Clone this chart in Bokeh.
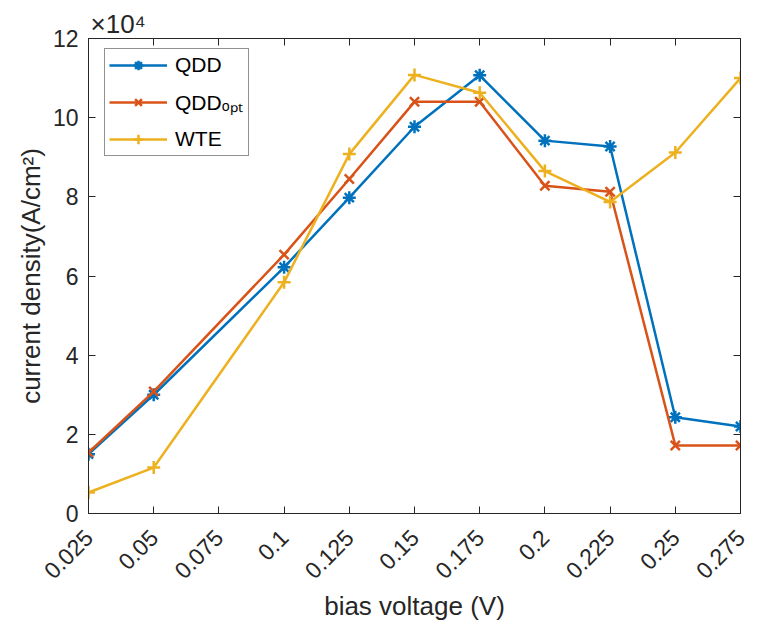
import math
from bokeh.plotting import figure
from bokeh.models import (FixedTicker, LinearAxis, Range1d, Legend, LegendItem,
                          Title, CustomJSTickFormatter)
from bokeh.embed import file_html
from bokeh.resources import INLINE

# ---- data (current density in A/cm^2) ----
bias_v = [0.025, 0.05, 0.1, 0.125, 0.15, 0.175, 0.2, 0.225, 0.25, 0.275]
qdd = [15000, 30000, 62200, 79800, 97700, 110700, 94200, 92700, 24300, 22000]
qdd_opt = [15400, 30800, 65400, 84500, 104000, 104000, 82800, 81300, 17200, 17200]
wte = [5300, 11600, 58400, 90800, 110800, 106300, 86500, 78700, 91200, 110000]

x_ticks = [0.025, 0.05, 0.075, 0.1, 0.125, 0.15, 0.175, 0.2, 0.225, 0.25, 0.275]
x_tick_labels = ["0.025", "0.05", "0.075", "0.1", "0.125", "0.15", "0.175",
                 "0.2", "0.225", "0.25", "0.275"]
y_ticks = [0, 20000, 40000, 60000, 80000, 100000, 120000]
y_tick_labels = ["0", "2", "4", "6", "8", "10", "12"]

series_names = ["QDD", "QDDₒₚₜ", "WTE"]
colors = ["#0072BD", "#D95319", "#EDB120"]
markers = ["asterisk", "x", "cross"]

FONT = "Liberation Sans"
AX = "#262626"

p = figure(width=749, height=624, output_backend="svg", toolbar_location=None,
           x_range=Range1d(0.025, 0.275), y_range=Range1d(0, 120000),
           min_border_left=88, min_border_right=9, min_border_top=38,
           min_border_bottom=107)
p.grid.visible = False
p.outline_line_color = AX
p.outline_line_width = 1
p.background_fill_color = "white"
p.border_fill_color = "white"

def style_axis(ax):
    ax.axis_line_color = AX
    ax.major_tick_line_color = AX
    ax.major_tick_in = 7
    ax.major_tick_out = 0
    ax.minor_tick_line_color = None
    ax.major_label_text_font = FONT
    ax.major_label_text_font_size = "23px"
    ax.major_label_text_color = AX
    ax.axis_label_text_font = FONT
    ax.axis_label_text_font_size = "26px"
    ax.axis_label_text_font_style = "normal"
    ax.axis_label_text_color = AX

xo = {x: l for x, l in zip(x_ticks, x_tick_labels)}
yo = {y: l for y, l in zip(y_ticks, y_tick_labels)}

xa = p.xaxis[0]
style_axis(xa)
xa.ticker = FixedTicker(ticks=x_ticks)
xa.major_label_overrides = xo
xa.major_label_orientation = math.pi / 4
xa.major_label_standoff = 20
xa.axis_label = "bias voltage (V)"
xa.axis_label_standoff = 2

ya = p.yaxis[0]
style_axis(ya)
ya.ticker = FixedTicker(ticks=y_ticks)
ya.major_label_overrides = yo
ya.major_label_standoff = 10
ya.axis_label = "current density(A/cm²)"
ya.axis_label_standoff = 4

blank = "return ''"
top = LinearAxis(ticker=FixedTicker(ticks=x_ticks),
                 formatter=CustomJSTickFormatter(code=blank))
style_axis(top)
top.major_label_standoff = 0
p.add_layout(top, "above")
right = LinearAxis(ticker=FixedTicker(ticks=y_ticks),
                   formatter=CustomJSTickFormatter(code=blank))
style_axis(right)
right.major_label_standoff = 0
p.add_layout(right, "right")

# exponent note above the y axis
p.add_layout(Title(text="×10⁴", align="left", offset=2, standoff=0,
                   text_font=FONT, text_font_size="26px",
                   text_font_style="normal", text_color=AX), "above")

items = []
for ys, name, c, m in zip([qdd, qdd_opt, wte], series_names, colors, markers):
    r1 = p.line(bias_v, ys, line_color=c, line_width=2.5)
    r2 = p.scatter(bias_v, ys, marker=m, size=13, line_color=c,
                   fill_color=c, line_width=2.5)
    items.append(LegendItem(label=name, renderers=[r1, r2]))

legend = Legend(items=items, location=(16, 357))
legend.label_text_font = FONT
legend.label_text_font_size = "21px"
legend.label_text_color = "black"
legend.glyph_width = 58
legend.glyph_height = 24
legend.label_height = 24
legend.label_width = 69
legend.spacing = 11
legend.padding = 4
legend.label_standoff = 8
legend.margin = 0
legend.border_line_color = AX
legend.border_line_width = 1
legend.background_fill_alpha = 1
p.add_layout(legend, "center")

open("out.html", "w").write(file_html(p, INLINE))
